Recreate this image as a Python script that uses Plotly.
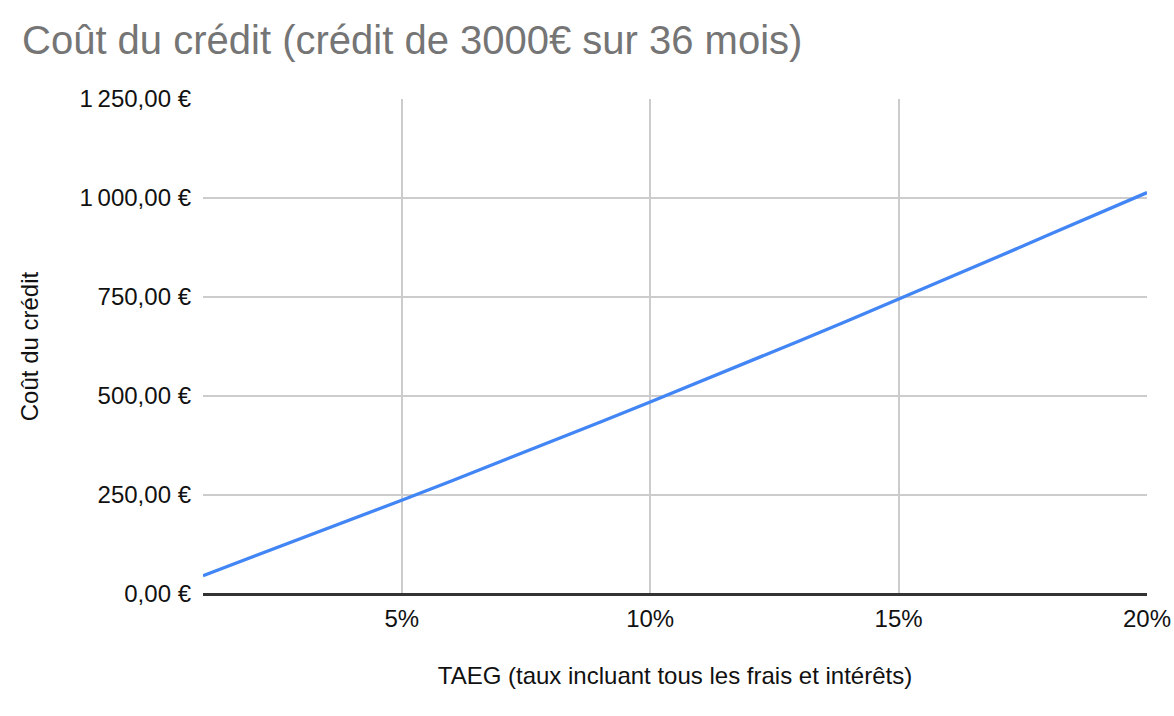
import plotly.graph_objects as go

# TAEG (%) et coût total du crédit (€) pour 3000 € sur 36 mois
taeg = [1, 2, 3, 4, 5, 6, 7, 8, 9, 10, 11, 12, 13, 14, 15, 16, 17, 18, 19, 20]
cout = [46.3, 93.4, 140.7, 188.6, 236.8, 285.5, 334.6, 384.2, 434.2, 484.8,
        535.7, 587.2, 639.1, 691.5, 744.4, 797.7, 851.5, 905.7, 960.4, 1013.6]

x_ticks = [5, 10, 15, 20]
x_labels = ["5%", "10%", "15%", "20%"]
y_ticks = [0, 250, 500, 750, 1000, 1250]
y_labels = ["0,00 €", "250,00 €", "500,00 €", "750,00 €", "1\u202f000,00 €", "1\u202f250,00 €"]

FONT = "Liberation Sans, Arial, sans-serif"
TEXT = "#111111"

fig = go.Figure()
fig.add_trace(go.Scatter(
    x=taeg, y=cout, mode="lines", name="Coût du crédit",
    line=dict(color="#4285F4", width=3.3),
))

fig.update_layout(
    width=1174, height=716, autosize=False,
    paper_bgcolor="white", plot_bgcolor="white",
    font=dict(family=FONT, size=24, color=TEXT),
    margin=dict(l=203, r=27, t=99, b=122),
    showlegend=False,
    title=dict(
        text="Coût du crédit (crédit de 3000€ sur 36 mois)",
        font=dict(family=FONT, size=40, color="#757575"),
        x=22 / 1174, xanchor="left", xref="container",
        y=1 - 40 / 716, yanchor="middle", yref="container",
    ),
)

fig.update_xaxes(
    range=[1, 20], tickvals=x_ticks, ticktext=x_labels,
    showgrid=True, gridcolor="#cccccc", gridwidth=2,
    zeroline=False, showline=False, automargin=False,
    ticks="", ticklabelstandoff=8,
    title=dict(text="TAEG (taux incluant tous les frais et intérêts)",
               font=dict(size=24, color=TEXT), standoff=36),
    tickfont=dict(size=24, color=TEXT),
)
fig.update_yaxes(
    range=[0, 1250], tickvals=y_ticks, ticktext=y_labels,
    showgrid=True, gridcolor="#cccccc", gridwidth=2,
    zeroline=True, zerolinecolor="#333333", zerolinewidth=2.5,
    showline=False, automargin=False, ticks="", ticklabelstandoff=11,
    title=dict(text="Coût du crédit", font=dict(size=24, color=TEXT), standoff=34),
    tickfont=dict(size=24, color=TEXT),
)

# the page has a default body margin; remove it so the figure sits at 0,0
fig.write_html(
    "out.html",
    config={"displayModeBar": False, "responsive": False},
    post_script="document.body.style.margin='0';document.body.style.overflow='hidden';",
)
